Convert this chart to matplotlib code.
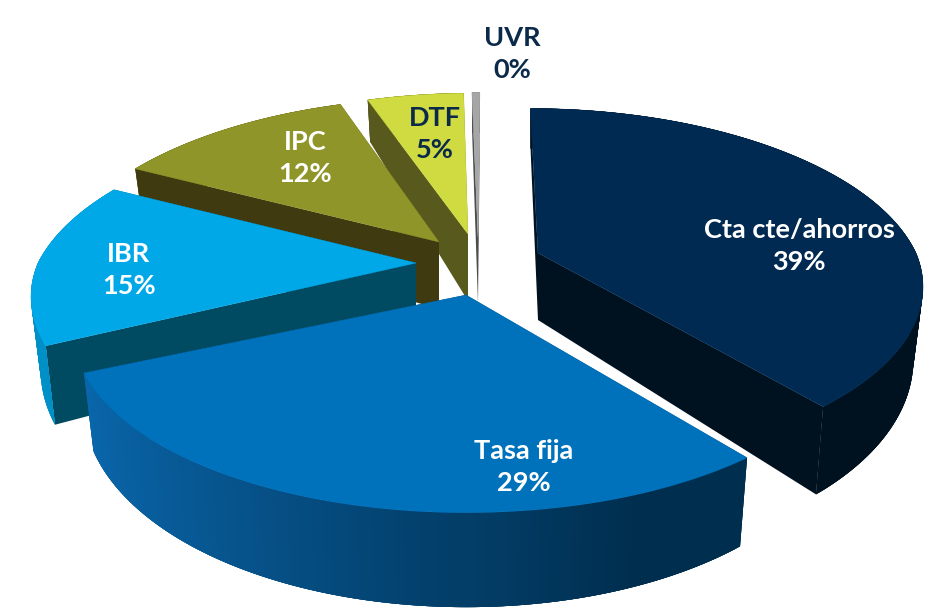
import numpy as np
import matplotlib
matplotlib.use("Agg")
import matplotlib.pyplot as plt
from matplotlib.patches import Polygon
from matplotlib.colors import to_rgb

categories = ["Cta cte/ahorros", "Tasa fija", "IBR", "IPC", "DTF", "UVR"]
values = [39, 29, 15, 12, 5, 0.4]
pct_labels = ["39%", "29%", "15%", "12%", "5%", "0%"]

top_colors = ["#002a52", "#0072bc", "#00a8e8", "#90952a", "#cfdb40", "#a6a6a6"]
cut_colors = ["#00121f", "#002e4e", "#004a62", "#3f3a10", "#57591d", "#4d4d4d"]
wall_left = ["#00121f", "#0a68ae", "#0090c8", "#5a5d18", "#57591d", "#808080"]
wall_right = ["#00121f", "#002e4e", "#0090c8", "#5a5d18", "#57591d", "#808080"]
apex_x = [538, 466, 416, 439, 468, 478]
apex_y = [253, 295, 263, 242, 234, 237]
radius_scale = [1.0, 1.02, 1.0, 1.0, 0.97, 1.0]
angle_shift_deg = [0, 2.0, 0, 0, 0, 0]
label_x = [799, 524, 129, 305, 435, 512]
label_y = [246, 467, 270, 158, 134, 54]
label_colors = ["white", "white", "white", "white", "#0b2a4a", "#0b2a4a"]
draw_order = [5, 4, 3, 2, 0, 1]

R_X, R_Y, PERSP = 378.0, 172.0, 0.19
D0, D1 = 67.0, 27.0
VANISH_X = 490.0
SHRINK = 0.025

plt.rcParams["font.family"] = ["Lato", "DejaVu Sans"]
fig = plt.figure(figsize=(9.27, 6.13), dpi=100)
ax = fig.add_axes([0, 0, 1, 1])
ax.set_xlim(0, 927)
ax.set_ylim(613, 0)
ax.axis("off")


def top_pt(i, r, th):
    r = r * radius_scale[i]
    u, v = r * np.sin(th), r * np.cos(th)
    s = 1.0 / (1.0 + PERSP * v)
    x0, y0 = apex_x[i], apex_y[i]
    return x0 + R_X * u * s + (x0 - VANISH_X) * min(s - 1, 0), y0 - R_Y * v * s, v


def bot_pt(i, r, th):
    x, y, v = top_pt(i, r, th)
    return x - SHRINK * (x - apex_x[i]), y + (D0 - D1 * v)


def grad(i, u):
    t = np.clip((u + 0.95) / 1.3, 0, 1)
    c0, c1 = np.array(to_rgb(wall_left[i])), np.array(to_rgb(wall_right[i]))
    return tuple(c0 + (c1 - c0) * t)


total = sum(values)
edges = np.concatenate([[0], np.cumsum(values)]) / total * 2 * np.pi

for i in draw_order:
    shift = np.radians(angle_shift_deg[i])
    a, b = edges[i] + shift, edges[i + 1] + shift
    ths = np.linspace(a, b, 160)
    dt = ths[1] - ths[0]
    faces = []
    for th in (a, b):
        q = [top_pt(i, 0, th)[:2], top_pt(i, 1, th)[:2], bot_pt(i, 1, th), bot_pt(i, 0, th)]
        faces.append((0.5 * np.cos(th), q, cut_colors[i]))
    for t0, t1 in zip(ths[:-1], ths[1:]):
        # strips overlap their neighbours so that no seams show
        lo, hi = max(a, t0 - 1.5 * dt), min(b, t1 + 1.5 * dt)
        arc = np.linspace(lo, hi, 6)
        q = [top_pt(i, 1, t)[:2] for t in arc] + [bot_pt(i, 1, t) for t in arc[::-1]]
        tm = (t0 + t1) / 2
        faces.append((np.cos(tm), q, grad(i, np.sin(tm))))
    for _, q, c in sorted(faces, key=lambda f: -f[0]):
        ax.add_patch(Polygon(q, closed=True, fc=c, ec="none"))
    pts = [top_pt(i, 0, a)[:2]] + [top_pt(i, 1, t)[:2] for t in ths]
    ax.add_patch(Polygon(pts, closed=True, fc=top_colors[i], ec=top_colors[i], lw=0.3))

for i, cat in enumerate(categories):
    ax.text(label_x[i], label_y[i], f"{cat}\n{pct_labels[i]}", color=label_colors[i],
            ha="center", va="center", fontsize=19.5, fontweight="bold", linespacing=1.42)

fig.savefig("out.png", dpi=100)
